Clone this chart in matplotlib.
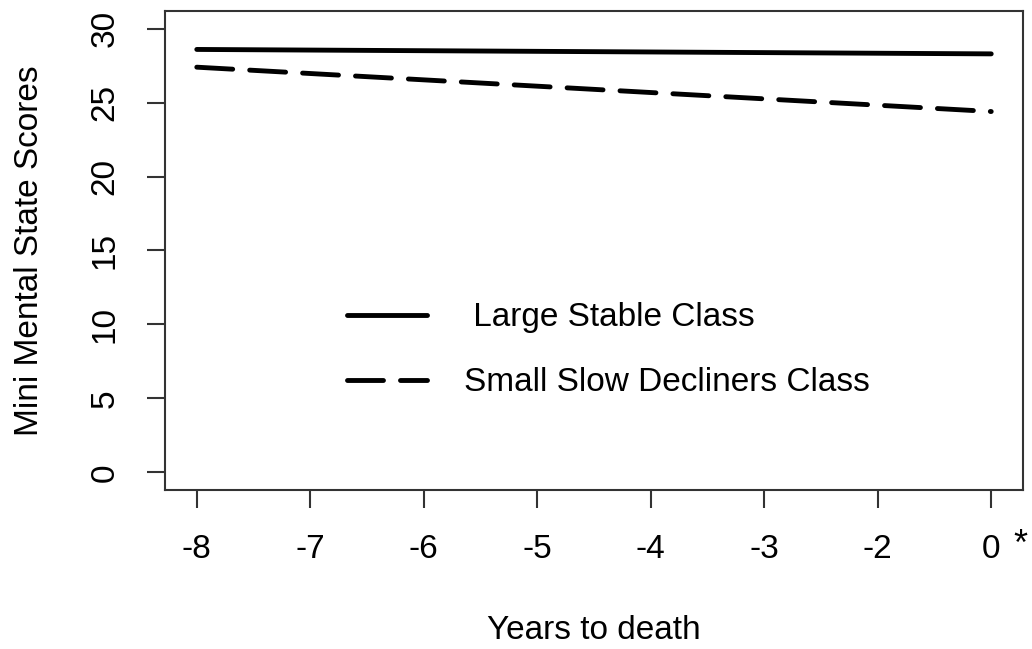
import matplotlib.pyplot as plt

plt.rcParams["font.family"] = ["Liberation Sans", "DejaVu Sans"]

# Tick labels on the x axis (equally spaced, as in the original)
YEAR_LABELS = ["-8", "-7", "-6", "-5", "-4", "-3", "-2", "0"]
Y_TICKS = [0, 5, 10, 15, 20, 25, 30]

# Fitted trajectories: value at first (-8) and last (0) tick
STABLE_X = [0, 7]
STABLE_Y = [28.6, 28.3]
DECLINE_X = [0, 7]
DECLINE_Y = [27.4, 24.4]

SPINE = "#333333"


def main():
    fig = plt.figure(figsize=(10.32, 6.49), dpi=100)
    ax = fig.add_axes([165 / 1032, 1 - 490 / 649, 858 / 1032, 479 / 649])

    ax.plot(STABLE_X, STABLE_Y, color="black", linewidth=3.5,
            solid_capstyle="round", label=" Large Stable Class")
    ax.plot(DECLINE_X, DECLINE_Y, color="black", linewidth=3.5,
            dashes=(7.4, 3.5), dash_capstyle="round",
            label="Small Slow Decliners Class")

    # R-style 4% padding
    ax.set_xlim(-0.28, 7.28)
    ax.set_ylim(-1.2, 31.2)

    ax.set_xticks(range(len(YEAR_LABELS)))
    ax.set_xticklabels(YEAR_LABELS)
    ax.set_yticks(Y_TICKS)
    ax.set_yticklabels([str(v) for v in Y_TICKS], rotation=90, va="center")

    ax.tick_params(axis="both", labelsize=24, length=13, width=1.5, color=SPINE)
    ax.tick_params(axis="x", pad=19)
    ax.tick_params(axis="y", pad=19)
    for spine in ax.spines.values():
        spine.set_color(SPINE)
        spine.set_linewidth(1.5)

    ax.set_xlabel("Years to death", fontsize=24, labelpad=36)
    ax.set_ylabel("Mini Mental State Scores", fontsize=24, labelpad=32)

    # asterisk next to the "0" label
    fig.text(1020 / 1032, 1 - 545 / 649, "*", fontsize=26,
             ha="center", va="center")

    ax.legend(loc="upper left", bbox_to_anchor=(0.212, 0.392),
              frameon=False, fontsize=24, handlelength=2.4,
              handletextpad=1.1, labelspacing=1.02,
              borderpad=0, borderaxespad=0)

    fig.savefig("out.png", dpi=100, facecolor="white")
    plt.close(fig)


if __name__ == "__main__":
    main()
